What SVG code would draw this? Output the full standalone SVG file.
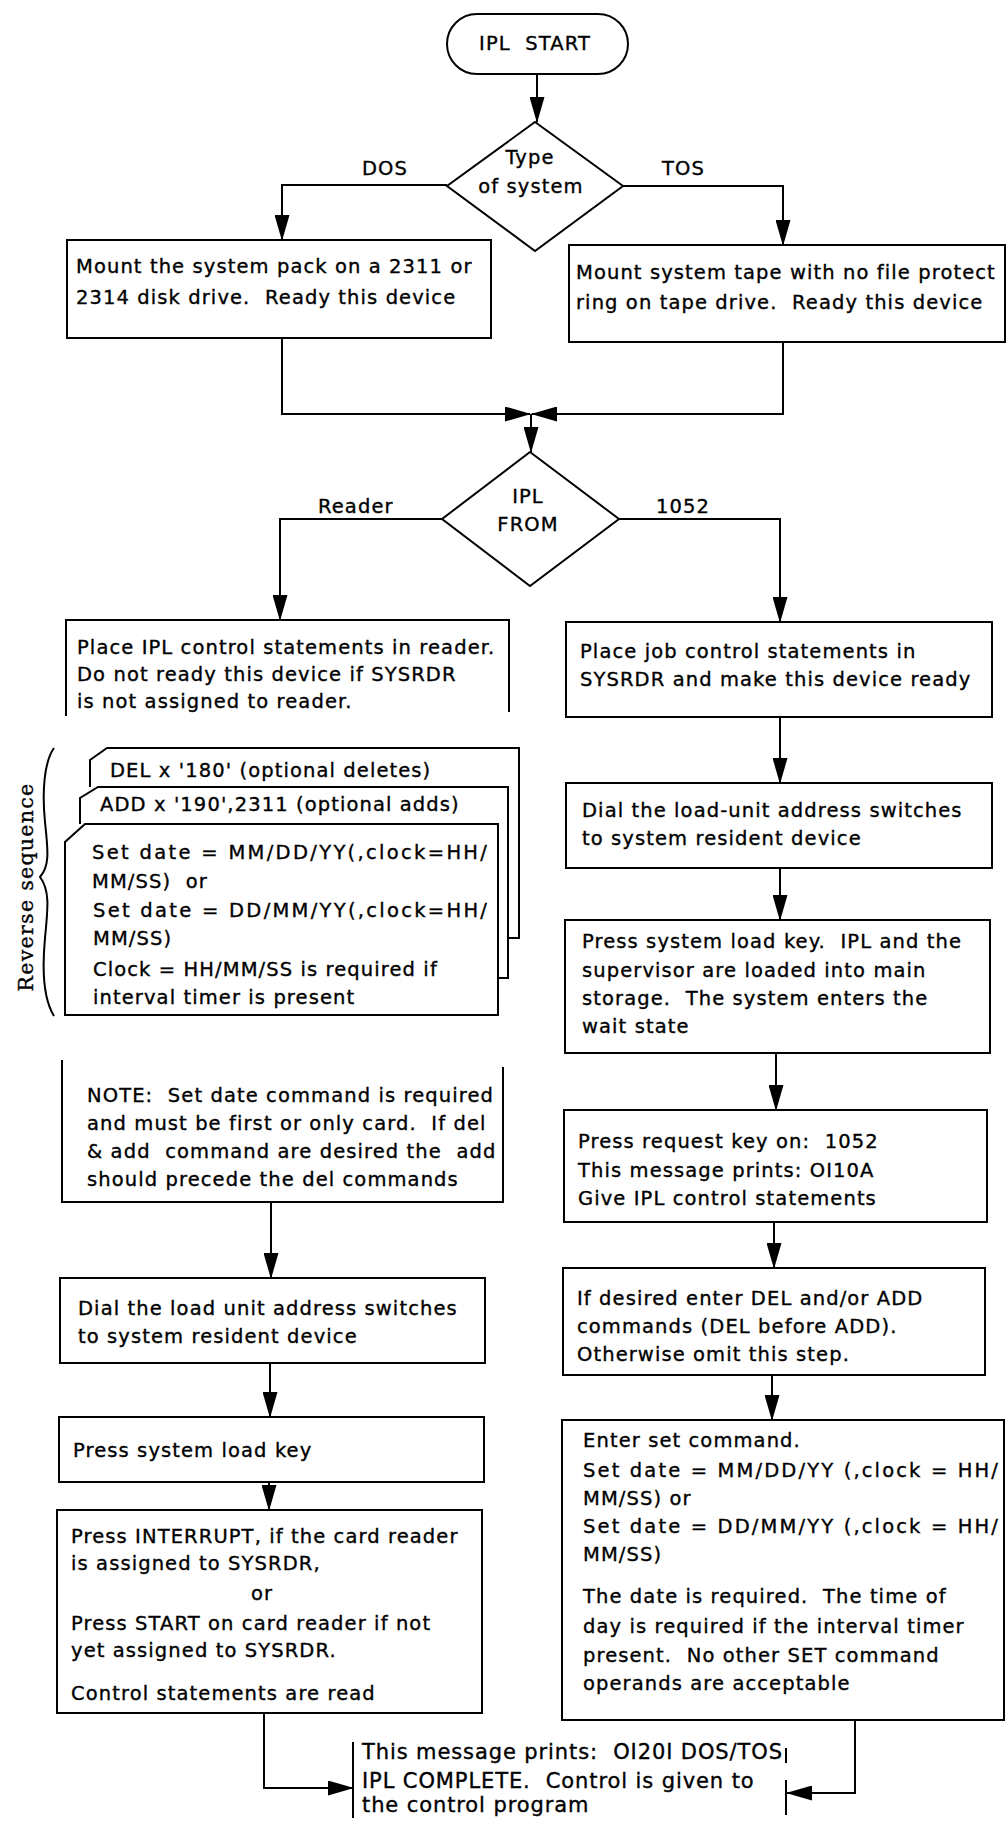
<svg xmlns="http://www.w3.org/2000/svg" width="1008" height="1822" viewBox="0 0 1008 1822">
<defs>
<style>
.b{fill:none;stroke:#000;stroke-width:2}
.c{fill:none;stroke:#000;stroke-width:2}
text{font-family:"DejaVu Sans","Liberation Sans",sans-serif;font-size:19.5px;letter-spacing:1.1px;fill:#000;stroke:#000;stroke-width:0.35px;white-space:pre}
.m{text-anchor:middle}
.f{font-size:21px;letter-spacing:0.9px}
.rs{font-family:"DejaVu Serif","Liberation Serif",serif;font-size:20.5px;letter-spacing:1.3px}
</style>
<marker id="ah" markerUnits="userSpaceOnUse" markerWidth="26" markerHeight="15" refX="25" refY="7.5" orient="auto">
<path d="M0,0 L26,7.5 L0,15 Z" fill="#000"/>
</marker>
</defs>
<rect width="1008" height="1822" fill="#fff"/>

<g id="connectors">
<path class="c" d="M537,74 V122" marker-end="url(#ah)"/>
<path class="c" d="M447,185 H282 V240" marker-end="url(#ah)"/>
<path class="c" d="M623,186 H783 V245" marker-end="url(#ah)"/>
<path class="c" d="M282,338 V414 H530" marker-end="url(#ah)"/>
<path class="c" d="M783,342 V414 H532" marker-end="url(#ah)"/>
<path class="c" d="M531,414 V452" marker-end="url(#ah)"/>
<path class="c" d="M442,519 H280 V620" marker-end="url(#ah)"/>
<path class="c" d="M619,519 H780 V622" marker-end="url(#ah)"/>
<path class="c" d="M780,717 V783" marker-end="url(#ah)"/>
<path class="c" d="M780,868 V920" marker-end="url(#ah)"/>
<path class="c" d="M776,1053 V1110" marker-end="url(#ah)"/>
<path class="c" d="M774,1222 V1268" marker-end="url(#ah)"/>
<path class="c" d="M772,1375 V1420" marker-end="url(#ah)"/>
<path class="c" d="M271,1202 V1278" marker-end="url(#ah)"/>
<path class="c" d="M270,1363 V1417" marker-end="url(#ah)"/>
<path class="c" d="M269,1482 V1510" marker-end="url(#ah)"/>
<path class="c" d="M264,1713 V1788 H353" marker-end="url(#ah)"/>
<path class="c" d="M855,1720 V1793 H787" marker-end="url(#ah)"/>
</g>

<g id="labels">
<text x="362" y="175">DOS</text>
<text x="662" y="175">TOS</text>
<text x="318" y="513">Reader</text>
<text x="656" y="513">1052</text>
</g>

<g id="ipl-start">
<rect class="b" x="447" y="14" width="181" height="60" rx="30"/>
<text class="m" x="535" y="50">IPL  START</text>
</g>

<g id="type-of-system">
<polygon class="b" points="535,122 623,186 535,251 447,186"/>
<text class="m" x="530" y="164">Type</text>
<text class="m" x="531" y="193">of system</text>
</g>

<g id="dos-mount">
<rect class="b" x="67" y="240" width="424" height="98"/>
<text x="76" y="273">Mount the system pack on a 2311 or</text>
<text x="76" y="304">2314 disk drive.  Ready this device</text>
</g>

<g id="tos-mount">
<rect class="b" x="569" y="245" width="436" height="97"/>
<text x="576" y="279">Mount system tape with no file protect</text>
<text x="576" y="309">ring on tape drive.  Ready this device</text>
</g>

<g id="ipl-from">
<polygon class="b" points="530,452 619,519 530,586 442,519"/>
<text class="m" x="528" y="503">IPL</text>
<text class="m" x="528" y="531">FROM</text>
</g>

<g id="reader-place">
<path class="b" d="M66,716 V620 H509 V712"/>
<text x="77" y="654">Place IPL control statements in reader.</text>
<text x="77" y="681">Do not ready this device if SYSRDR</text>
<text x="77" y="708">is not assigned to reader.</text>
</g>

<g id="cards">
<path class="b" d="M90,787 V760 L107,748 H519 V938 H508"/>
<path class="b" d="M80,824 V798 L98,787 H508 V978 H498"/>
<path class="b" d="M65,1015 V842 L85,824 H498 V1015 Z"/>
<text x="110" y="777">DEL x '180' (optional deletes)</text>
<text x="100" y="811">ADD x '190',2311 (optional adds)</text>
<text x="92" y="859" textLength="396">Set date = MM/DD/YY(,clock=HH/</text>
<text x="92" y="888">MM/SS)  or</text>
<text x="93" y="917" textLength="395">Set date = DD/MM/YY(,clock=HH/</text>
<text x="93" y="945">MM/SS)</text>
<text x="93" y="976">Clock = HH/MM/SS is required if</text>
<text x="93" y="1004">interval timer is present</text>
</g>

<g id="reverse-sequence">
<path class="b" d="M54,748 C44,762 42,792 45,822 C48,850 50,866 40,877 C50,890 48,908 45,938 C42,970 44,1000 54,1016"/>
<text class="rs m" transform="translate(33,887) rotate(-90)">Reverse sequence</text>
</g>

<g id="note">
<path class="b" d="M62,1060 V1202 H503 V1067"/>
<text x="87" y="1102">NOTE:  Set date command is required</text>
<text x="87" y="1130">and must be first or only card.  If del</text>
<text x="87" y="1158">&amp; add  command are desired the  add</text>
<text x="87" y="1186">should precede the del commands</text>
</g>

<g id="dial-left">
<rect class="b" x="60" y="1278" width="425" height="85"/>
<text x="78" y="1315">Dial the load unit address switches</text>
<text x="78" y="1343">to system resident device</text>
</g>

<g id="press-load-left">
<rect class="b" x="59" y="1417" width="425" height="65"/>
<text x="73" y="1457">Press system load key</text>
</g>

<g id="interrupt">
<rect class="b" x="57" y="1510" width="425" height="203"/>
<text x="71" y="1543">Press INTERRUPT, if the card reader</text>
<text x="71" y="1570">is assigned to SYSRDR,</text>
<text class="m" x="262" y="1600">or</text>
<text x="71" y="1630">Press START on card reader if not</text>
<text x="71" y="1657">yet assigned to SYSRDR.</text>
<text x="71" y="1700">Control statements are read</text>
</g>

<g id="place-job">
<rect class="b" x="566" y="622" width="426" height="95"/>
<text x="580" y="658">Place job control statements in</text>
<text x="580" y="686">SYSRDR and make this device ready</text>
</g>

<g id="dial-right">
<rect class="b" x="566" y="783" width="426" height="85"/>
<text x="582" y="817">Dial the load-unit address switches</text>
<text x="582" y="845">to system resident device</text>
</g>

<g id="press-load-right">
<rect class="b" x="565" y="920" width="425" height="133"/>
<text x="582" y="948">Press system load key.  IPL and the</text>
<text x="582" y="977">supervisor are loaded into main</text>
<text x="582" y="1005">storage.  The system enters the</text>
<text x="582" y="1033">wait state</text>
</g>

<g id="press-request">
<rect class="b" x="564" y="1110" width="423" height="112"/>
<text x="578" y="1148">Press request key on:  1052</text>
<text x="578" y="1177">This message prints: OI10A</text>
<text x="578" y="1205">Give IPL control statements</text>
</g>

<g id="del-add">
<rect class="b" x="563" y="1268" width="422" height="107"/>
<text x="577" y="1305">If desired enter DEL and/or ADD</text>
<text x="577" y="1333">commands (DEL before ADD).</text>
<text x="577" y="1361">Otherwise omit this step.</text>
</g>

<g id="set-command">
<rect class="b" x="562" y="1420" width="442" height="300"/>
<text x="583" y="1447">Enter set command.</text>
<text x="583" y="1477" textLength="416">Set date = MM/DD/YY (,clock = HH/</text>
<text x="583" y="1505">MM/SS) or</text>
<text x="583" y="1533" textLength="416">Set date = DD/MM/YY (,clock = HH/</text>
<text x="583" y="1561">MM/SS)</text>
<text x="583" y="1603">The date is required.  The time of</text>
<text x="583" y="1633">day is required if the interval timer</text>
<text x="583" y="1662">present.  No other SET command</text>
<text x="583" y="1690">operands are acceptable</text>
</g>

<g id="ipl-complete">
<path class="b" d="M353,1742 V1818"/>
<path class="b" d="M786,1748 V1763 M786,1780 V1815"/>
<text class="f" x="362" y="1759">This message prints:  OI20I DOS/TOS</text>
<text class="f" x="362" y="1788">IPL COMPLETE.  Control is given to</text>
<text class="f" x="362" y="1812">the control program</text>
</g>
</svg>
